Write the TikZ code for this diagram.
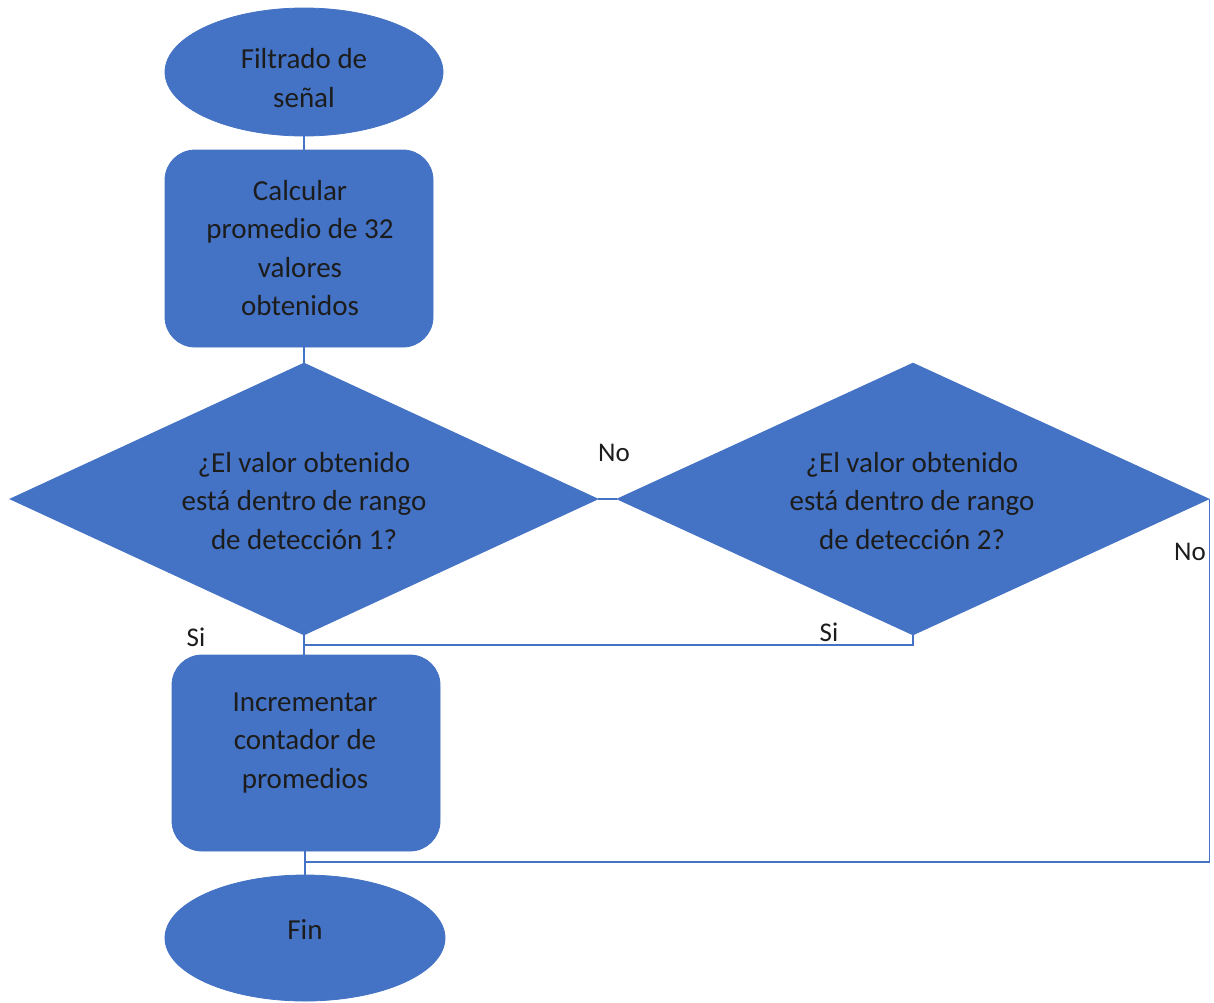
\documentclass[tikz,border=0pt]{standalone}
\usepackage{fontspec}
\setmainfont{Carlito}
\usetikzlibrary{shapes.geometric}
\definecolor{boxblue}{HTML}{4472C4}
\definecolor{ink}{HTML}{1C1C1C}
\begin{document}
\begin{tikzpicture}[x=1pt,y=-1pt,
  shapefill/.style={fill=boxblue,draw=boxblue,line width=0.8pt,inner sep=0pt},
  terminal/.style={shapefill,ellipse},
  process/.style={shapefill,rectangle,rounded corners=30pt},
  decision/.style={shapefill,diamond,aspect=2.16},
  txt/.style={text=ink,align=center,font=\fontsize{29}{38.5}\selectfont,inner sep=0pt},
  lbl/.style={text=ink,font=\fontsize{27}{32}\selectfont,inner sep=0pt},
  link/.style={draw=boxblue,line width=1.6pt}
]
\useasboundingbox (0,0) rectangle (1214,1002);

% shapes
\node[terminal,minimum width=278pt,minimum height=128pt] (start) at (304,72) {};
\node[process,minimum width=268pt,minimum height=197pt] (avg) at (299,248.5) {};
\node[decision,minimum width=588pt,minimum height=272pt] (d1) at (304,499) {};
\node[decision,minimum width=592pt,minimum height=272pt] (d2) at (913,499) {};
\node[process,minimum width=268pt,minimum height=196pt] (inc) at (306,753) {};
\node[terminal,minimum width=280pt,minimum height=126pt] (fin) at (305,938) {};

% texts
\node[txt] (tstart) at (304,78) {Filtrado de\\señal};
\node[txt] (tavg) at (300,248) {Calcular\\promedio de 32\\valores\\obtenidos};
\node[txt] (td1) at (304,501) {¿El valor obtenido\\está dentro de rango\\de detección 1?};
\node[txt] (td2) at (912,501) {¿El valor obtenido\\está dentro de rango\\de detección 2?};
\node[txt] (tinc) at (305,743) {Incrementar\\contador de\\promedios};
\node[txt] (tfin) at (305,930) {Fin};

% connector end points
\coordinate (siJoin) at (305,645);
\coordinate (noJoin) at (305,862);

% connectors (kept vertical along the main column)
\draw[link] (start.south) -- (start.south |- avg.north);
\draw[link] (d1.north |- avg.south) -- (d1.north);
\draw[link] (d1.east) -- (d2.west);
\draw[link] (d1.south) -- (d1.south |- inc.north);
\draw[link] (d2.south) -- (d2.south |- siJoin) -- (siJoin);
\draw[link] (d2.east) -- (d2.east |- noJoin) -- (noJoin);
\draw[link] (fin.north |- inc.south) -- (fin.north);

% branch labels
\node[lbl] (lno1) at (614,453) {No};
\node[lbl] (lsi1) at (196,637) {Si};
\node[lbl] (lsi2) at (829,632) {Si};
\node[lbl] (lno2) at (1190,552) {No};
\end{tikzpicture}
\end{document}
